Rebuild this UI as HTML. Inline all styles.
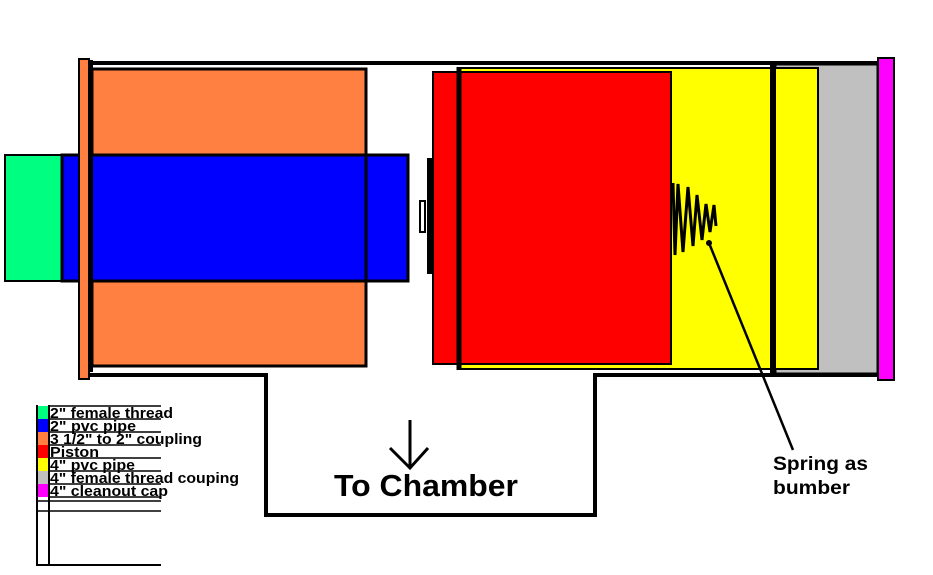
<!DOCTYPE html>
<html><head><style>body{margin:0;background:#fff}svg{display:block}text{font-family:"Liberation Sans",Arial,sans-serif}</style></head>
<body>
<svg width="933" height="575" viewBox="0 0 933 575" xmlns="http://www.w3.org/2000/svg">
<rect width="933" height="575" fill="#fff"/>
<polyline points="88,63 878,63" stroke="#000" stroke-width="4" fill="none"/>
<polyline points="88,375 266,375 266,515 595,515 595,375 878,375" stroke="#000" stroke-width="4" fill="none"/>
<rect x="5" y="155" width="57" height="126" fill="#00ff80" stroke="#000" stroke-width="2"/>
<rect x="62" y="155" width="346" height="126" fill="#0000ff" stroke="#000" stroke-width="3"/>
<rect x="92" y="69" width="274" height="86" fill="#ff8040" stroke="#000" stroke-width="3"/>
<rect x="92" y="281" width="274" height="85" fill="#ff8040" stroke="#000" stroke-width="3"/>
<line x1="366" y1="69" x2="366" y2="366" stroke="#000" stroke-width="3"/>
<rect x="79" y="59" width="10" height="320" fill="#ff8040" stroke="#000" stroke-width="2"/>
<line x1="91" y1="60" x2="91" y2="372" stroke="#000" stroke-width="4"/>
<rect x="420" y="201" width="5" height="31" fill="#fff" stroke="#000" stroke-width="2"/>
<rect x="427" y="158" width="5" height="116" fill="#000"/>
<rect x="775" y="64" width="103" height="310" fill="#c0c0c0" stroke="#000" stroke-width="3"/>
<rect x="458" y="68" width="360" height="301" fill="#ffff00" stroke="#000" stroke-width="2"/>
<line x1="773" y1="63" x2="773" y2="376" stroke="#000" stroke-width="6"/>
<rect x="433" y="72" width="27" height="292" fill="#ff0000" stroke="#000" stroke-width="2"/>
<rect x="460" y="72" width="211" height="292" fill="#ff0000" stroke="#000" stroke-width="2"/>
<line x1="459" y1="67" x2="459" y2="370" stroke="#000" stroke-width="5"/>
<rect x="878" y="58" width="16" height="322" fill="#ff00ff" stroke="#000" stroke-width="2"/>
<polyline points="673,183 675,255 678,184 683,252 688,187 693,246 697,195 702,240 706,204 710,232 714,205 716,226" stroke="#000" stroke-width="3" fill="none"/>
<circle cx="709" cy="243" r="3" fill="#000"/>
<line x1="709" y1="243" x2="793" y2="450" stroke="#000" stroke-width="2.5"/>
<text x="773" y="470" font-size="19" font-weight="bold" textLength="95" lengthAdjust="spacingAndGlyphs">Spring as</text>
<text x="773" y="494" font-size="19" font-weight="bold" textLength="77" lengthAdjust="spacingAndGlyphs">bumber</text>
<line x1="410" y1="420" x2="410" y2="468" stroke="#000" stroke-width="3"/>
<polyline points="390,448 410,468 428,448" stroke="#000" stroke-width="3" fill="none"/>
<text x="334" y="496" font-size="31" font-weight="bold" textLength="184" lengthAdjust="spacingAndGlyphs">To Chamber</text>
<rect x="37" y="406" width="12" height="13" fill="#00ff80"/>
<rect x="37" y="419" width="12" height="13" fill="#0000ff"/>
<rect x="37" y="432" width="12" height="13" fill="#ff8040"/>
<rect x="37" y="445" width="12" height="13" fill="#ff0000"/>
<rect x="37" y="458" width="12" height="13" fill="#ffff00"/>
<rect x="37" y="471" width="12" height="13" fill="#c0c0c0"/>
<rect x="37" y="484" width="12" height="13" fill="#ff00ff"/>
<g stroke="#000" stroke-width="1.5">
<line x1="49" y1="406" x2="161" y2="406"/>
<line x1="49" y1="419" x2="161" y2="419"/>
<line x1="49" y1="432" x2="161" y2="432"/>
<line x1="49" y1="445" x2="161" y2="445"/>
<line x1="49" y1="458" x2="161" y2="458"/>
<line x1="49" y1="471" x2="161" y2="471"/>
<line x1="49" y1="484" x2="161" y2="484"/>
<line x1="49" y1="497" x2="161" y2="497"/>
<line x1="37" y1="501" x2="161" y2="501"/>
<line x1="37" y1="511" x2="161" y2="511"/>
</g>
<line x1="37" y1="405" x2="37" y2="566" stroke="#000" stroke-width="2"/>
<line x1="49" y1="405" x2="49" y2="566" stroke="#000" stroke-width="2"/>
<line x1="36" y1="565" x2="161" y2="565" stroke="#000" stroke-width="2"/>
<g font-size="15" font-weight="bold">
<text x="50" y="418" textLength="123" lengthAdjust="spacingAndGlyphs">2" female thread</text>
<text x="50" y="431" textLength="86" lengthAdjust="spacingAndGlyphs">2" pvc pipe</text>
<text x="50" y="444" textLength="152" lengthAdjust="spacingAndGlyphs">3 1/2" to 2" coupling</text>
<text x="50" y="457" textLength="49" lengthAdjust="spacingAndGlyphs">Piston</text>
<text x="50" y="470" textLength="85" lengthAdjust="spacingAndGlyphs">4" pvc pipe</text>
<text x="50" y="483" textLength="189" lengthAdjust="spacingAndGlyphs">4" female thread couping</text>
<text x="50" y="496" textLength="118" lengthAdjust="spacingAndGlyphs">4" cleanout cap</text>
</g>
</svg>
</body></html>
